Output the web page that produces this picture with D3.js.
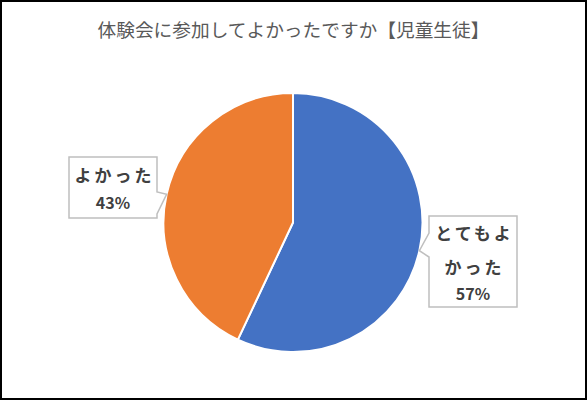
<!DOCTYPE html>
<html>
<head>
<meta charset="utf-8">
<script src="https://cdn.jsdelivr.net/npm/d3@7"></script>
<style>
  body { margin: 0; background: #fff; }
  svg { display: block; font-family: "Noto Sans CJK JP", "Noto Sans", sans-serif; }
</style>
</head>
<body>
<div id="chart"></div>
<script>
var title = "体験会に参加してよかったですか【児童生徒】";
var categories = ["とてもよかった", "よかった"];
var values = [57, 43];
var labelLines = [["とてもよ", "かった"], ["よかった"]];
var colors = ["#4472C4", "#ED7D31"];

var width = 587,
    height = 400,
    cx = 293,
    cy = 222.5,
    radius = 129.5;

// label boxes and text offsets for each slice
var boxes = [
    { x: 429, y: 216, w: 88, h: 91, lines: [17.5, 52], pct: 78 },
    { x: 69, y: 157, w: 88, h: 61, lines: [18.5], pct: 46 }
];

var svg = d3.select("#chart").append("svg")
    .attr("width", width)
    .attr("height", height);

svg.append("rect")
    .attr("x", 1)
    .attr("y", 1)
    .attr("width", width - 2)
    .attr("height", height - 2)
    .attr("fill", "#fff")
    .attr("stroke", "#000")
    .attr("stroke-width", 2);

svg.append("text")
    .attr("x", width / 2)
    .attr("y", 37)
    .attr("text-anchor", "middle")
    .style("font-size", "18.7px")
    .style("fill", "#595959")
    .text(title);

var total = d3.sum(values);
var pie = d3.pie().sort(null).value(function(d) { return d; });
var arcs = pie(values);

var arc = d3.arc().innerRadius(0).outerRadius(radius);

var g = svg.append("g")
    .attr("transform", "translate(" + cx + "," + cy + ")");

g.selectAll("path")
    .data(arcs).enter()
    .append("path")
    .attr("d", arc)
    .attr("fill", function(d, i) { return colors[i]; })
    .attr("stroke", "#fff")
    .attr("stroke-width", 2)
    .attr("stroke-linejoin", "round");

// callout labels
arcs.forEach(function(d, i) {
    var b = boxes[i];
    var mid = (d.startAngle + d.endAngle) / 2;
    var tx = cx + radius * Math.sin(mid),
        ty = cy - radius * Math.cos(mid);
    var path;
    if (tx > b.x + b.w) {
        // pointer on right side
        var r = b.x + b.w;
        path = "M" + b.x + "," + b.y + "H" + r + "V" + (b.y + 35) + "L" + tx + "," + ty +
            "L" + r + "," + (b.y + 57) + "V" + (b.y + b.h) + "H" + b.x + "Z";
    } else {
        // pointer on left side
        path = "M" + b.x + "," + b.y + "H" + (b.x + b.w) + "V" + (b.y + b.h) + "H" + b.x +
            "V" + (b.y + 41) + "L" + tx + "," + ty + "L" + b.x + "," + (b.y + 17) + "Z";
    }
    svg.append("path")
        .attr("d", path)
        .attr("fill", "#fff")
        .attr("stroke", "#BFBFBF")
        .attr("stroke-width", 1.5);

    var pct = Math.round(d.value / total * 100) + "%";
    var t = svg.append("g").style("fill", "#404040").style("font-weight", "bold");
    labelLines[i].forEach(function(s, j) {
        t.append("text")
            .attr("x", b.x + b.w / 2 + 1.5)
            .attr("y", b.y + b.lines[j])
            .attr("dy", "0.37em")
            .attr("text-anchor", "middle")
            .style("font-size", "17px")
            .style("letter-spacing", "3px")
            .text(s);
    });
    t.append("text")
        .attr("x", b.x + b.w / 2)
        .attr("y", b.y + b.pct)
        .attr("dy", "0.36em")
        .attr("text-anchor", "middle")
        .style("font-size", "16px")
        .text(pct);
});
</script>
</body>
</html>
